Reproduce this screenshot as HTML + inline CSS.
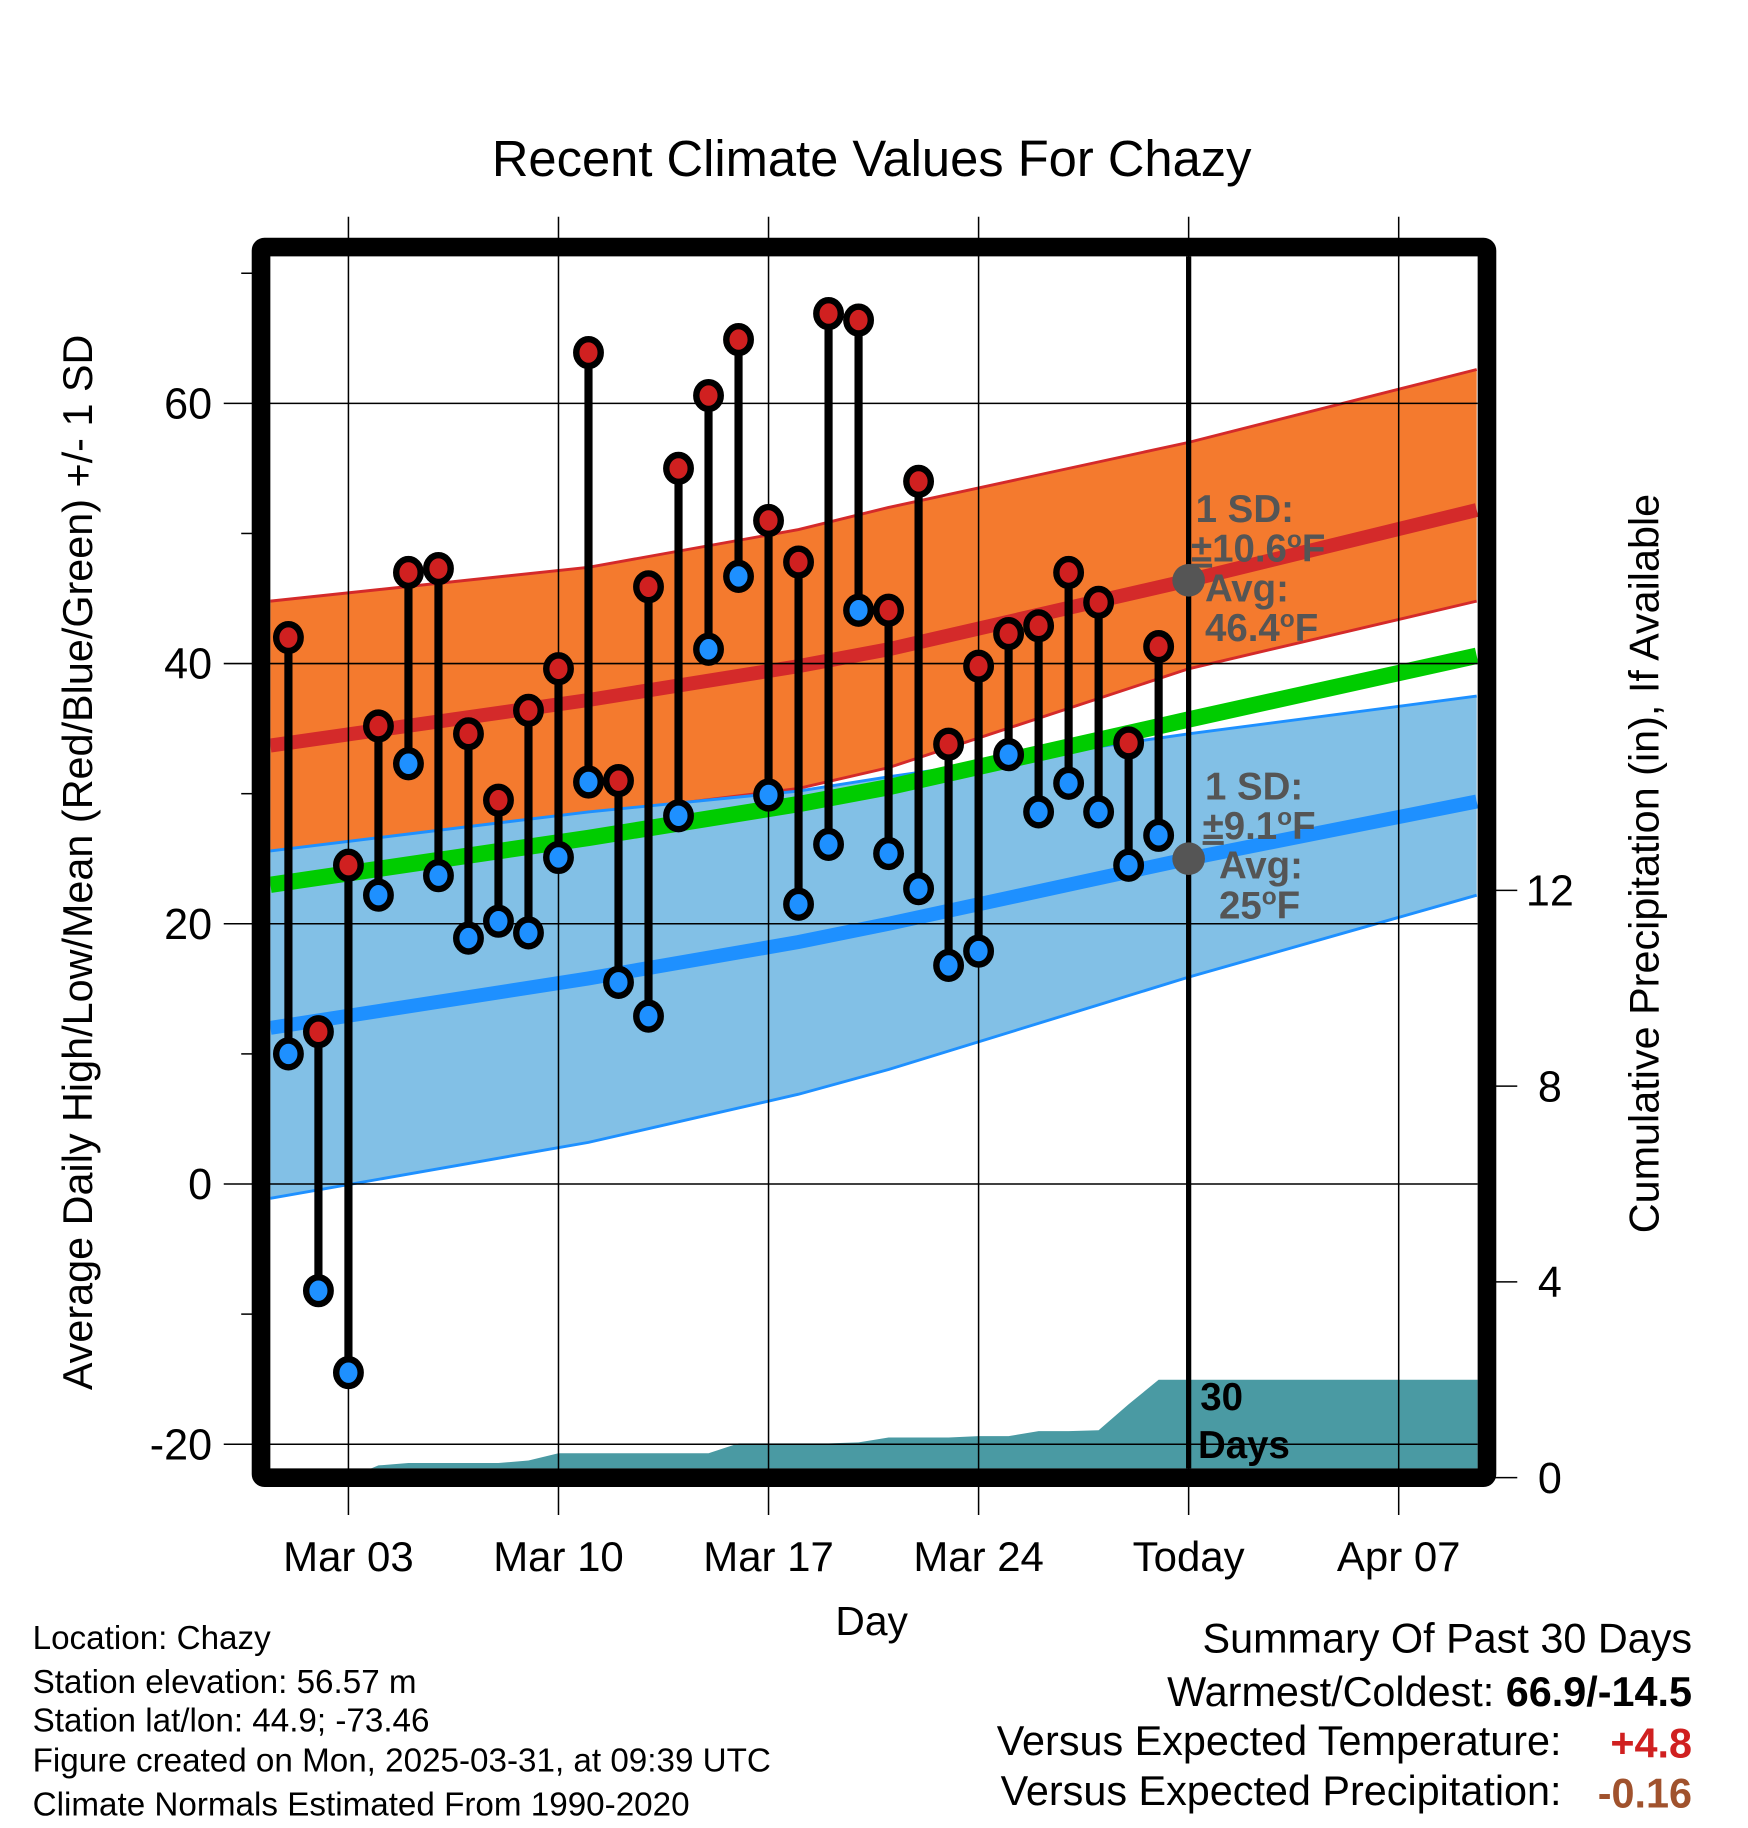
<!DOCTYPE html>
<html><head><meta charset="utf-8"><style>
html,body{margin:0;padding:0;background:#fff}
svg{display:block;font-family:"Liberation Sans",sans-serif}
</style></head><body>
<svg id="chart" width="1748" height="1828" viewBox="0 0 1500 1568.6" xmlns="http://www.w3.org/2000/svg">
<defs><clipPath id="plotclip"><rect x="232" y="220" width="1036" height="1040"/></clipPath></defs>
<rect width="1500" height="1568.6" fill="#fff"/>
<text x="748" y="151" font-size="43.5" text-anchor="middle">Recent Climate Values For Chazy</text>
<g id="grid"></g>
<g id="bands" clip-path="url(#plotclip)"></g>
<g id="precip" clip-path="url(#plotclip)"></g>
<g id="grid2"></g>
<g id="marks"></g>
<g id="axes"></g>
<g font-size="28.5">
<text x="28" y="1415">Location: Chazy</text>
<text x="28" y="1453">Station elevation: 56.57 m</text>
<text x="28" y="1486">Station lat/lon: 44.9; -73.46</text>
<text x="28" y="1520">Figure created on Mon, 2025-03-31, at 09:39 UTC</text>
<text x="28" y="1558">Climate Normals Estimated From 1990-2020</text>
</g>
<g font-size="35.5" text-anchor="end">
<text x="1452" y="1418">Summary Of Past 30 Days</text>
<text x="1452" y="1464">Warmest/Coldest: <tspan font-weight="bold">66.9/-14.5</tspan></text>
<text x="1340" y="1506">Versus Expected Temperature:</text>
<text x="1452" y="1508" font-weight="bold" fill="#d02020">+4.8</text>
<text x="1340" y="1549">Versus Expected Precipitation:</text>
<text x="1452" y="1551" font-weight="bold" fill="#a0522d">-0.16</text>
</g>
</svg>
<script>
// ---- data ----
const highs=[42,11.7,24.5,35.2,47,47.3,34.6,29.5,36.4,39.6,63.9,31,45.9,55,60.6,64.9,51,47.8,66.9,66.4,44.1,54,33.8,39.8,42.3,42.9,47,44.7,33.9,41.3];
const lows=[10,-8.2,-14.5,22.2,32.3,23.7,18.9,20.2,19.3,25.1,30.9,15.5,12.9,28.3,41.1,46.7,29.9,21.5,26.1,44.1,25.4,22.7,16.8,17.9,33,28.6,30.8,28.6,24.5,26.8];
const normDays=[-0.6,10,17,20,30,39.6];
const highMean=[33.7,37.2,39.8,41.1,46.4,51.8];
const highUpper=[44.8,47.4,50.3,52.0,57.0,62.6];
const highLower=[25.5,28.4,30.4,32.0,39.6,44.8];
const meanNorm=[23,26.6,29.2,30.5,35.7,40.6];
const lowMean=[12,15.8,18.6,20,25,29.4];
const lowUpper=[25.6,28.6,30.2,31.3,34.6,37.5];
const lowLower=[-1.1,3.2,6.9,8.8,15.9,22.2];
const precip=[0,0,0,0.25,0.3,0.3,0.3,0.3,0.35,0.5,0.5,0.5,0.5,0.5,0.5,0.7,0.7,0.7,0.7,0.72,0.82,0.82,0.82,0.85,0.85,0.95,0.95,0.97,1.5,2.0,2.0];
const xTickDays=[2,9,16,23,30,37];
const xTickLabels=["Mar 03","Mar 10","Mar 17","Mar 24","Today","Apr 07"];
const yTicks=[60,40,20,0,-20];
const yMinor=[70,50,30,10,-10];
const pTicks=[0,4,8,12];
// ---- scales ----
const X=d=>247.5+d*25.75, Y=v=>1016-v*11.165, P=v=>1268-v*42;
const NS="http://www.w3.org/2000/svg";
function mk(p,t,a){const e=document.createElementNS(NS,t);for(const k in a)e.setAttribute(k,a[k]);p.appendChild(e);return e;}
const G=id=>document.getElementById(id);
const grid=G('grid'),bands=G('bands'),pr=G('precip'),grid2=G('grid2'),marks=G('marks'),axes=G('axes');
const line=(xs,ys)=>xs.map((d,i)=>`${X(d)},${Y(ys[i])}`).join(' ');
const band=(up,lo)=>line(normDays,up)+' '+line(normDays.slice().reverse(),lo.slice().reverse());
let e;
e=mk(bands,'polygon',{points:band(highUpper,highLower),fill:'#f47a2e'});

e=mk(bands,'polyline',{points:line(normDays,highUpper),fill:'none',stroke:'#d42a2a','stroke-width':2.5});

e=mk(bands,'polyline',{points:line(normDays,highLower),fill:'none',stroke:'#d42a2a','stroke-width':2.5});

e=mk(bands,'polygon',{points:band(lowUpper,lowLower),fill:'#82c0e6'});

e=mk(bands,'polyline',{points:line(normDays,lowUpper),fill:'none',stroke:'#1e90ff','stroke-width':2.5});

e=mk(bands,'polyline',{points:line(normDays,lowLower),fill:'none',stroke:'#1e90ff','stroke-width':2.5});

e=mk(bands,'polyline',{points:line(normDays,meanNorm),fill:'none',stroke:'#00cc00','stroke-width':14});

e=mk(bands,'polyline',{points:line(normDays,highMean),fill:'none',stroke:'#d42a2a','stroke-width':12});

e=mk(bands,'polyline',{points:line(normDays,lowMean),fill:'none',stroke:'#1e90ff','stroke-width':12});

let pts=`${X(0)},${P(0)} `+precip.map((v,i)=>`${X(i)},${P(v)}`).join(' ')+` ${X(40)},${P(precip[precip.length-1])} ${X(40)},${P(0)}`;
e=mk(pr,'polygon',{points:pts,fill:'#4a9aa3'});

xTickDays.forEach((d,i)=>{
 e=mk(grid2,'line',{x1:X(d),x2:X(d),y1:186,y2:1300,stroke:'#000','stroke-width':1.3});
 
 e=mk(axes,'text',{x:X(d),y:1348,'font-size':36,'text-anchor':'middle'});e.textContent=xTickLabels[i];
 
});
yTicks.forEach(v=>{
 e=mk(grid2,'line',{x1:192,x2:1268,y1:Y(v),y2:Y(v),stroke:'#000','stroke-width':1.3});
 
 e=mk(axes,'text',{x:182,y:Y(v)+13,'font-size':37,'text-anchor':'end'});e.textContent=v;
 
});
yMinor.forEach(v=>{
 e=mk(axes,'line',{x1:207,x2:220,y1:Y(v),y2:Y(v),stroke:'#000','stroke-width':1.3});
 
});
pTicks.forEach(v=>{
 e=mk(axes,'line',{x1:1276,x2:1302,y1:P(v),y2:P(v),stroke:'#000','stroke-width':1.3});
 
 e=mk(axes,'text',{x:1330,y:P(v)+13,'font-size':37,'text-anchor':'middle'});e.textContent=v;
 
});
e=mk(marks,'line',{x1:X(30),x2:X(30),y1:220,y2:1260,stroke:'#000','stroke-width':4.5});

highs.forEach((h,i)=>{
 const l=lows[i],x=X(i);
 e=mk(marks,'line',{x1:x,x2:x,y1:Y(h),y2:Y(l),stroke:'#000','stroke-width':7});
 
 e=mk(marks,'ellipse',{cx:x,cy:Y(h),rx:10.5,ry:11.5,fill:'#d02020',stroke:'#000','stroke-width':5.5});
 
 e=mk(marks,'ellipse',{cx:x,cy:Y(l),rx:10.5,ry:11.5,fill:'#1e90ff',stroke:'#000','stroke-width':5.5});
 
});
const hm=highMean[4],lm=lowMean[4];
e=mk(marks,'circle',{cx:X(30),cy:Y(hm),r:14,fill:'#555'});

e=mk(marks,'circle',{cx:X(30),cy:Y(lm),r:14,fill:'#555'});

const ann=(lines,x0,y0,name)=>{const g=mk(marks,'g',{fill:'#555','font-weight':'bold','font-size':33});
 
 lines.forEach((t,i)=>{const tt=mk(g,'text',{x:x0[i],y:y0+i*34});tt.innerHTML=t;});};
ann(['1 SD:','<tspan text-decoration="underline">±</tspan>10.6<tspan font-size="21" dy="-12">o</tspan><tspan dy="12">F</tspan>','Avg:','46.4<tspan font-size="21" dy="-12">o</tspan><tspan dy="12">F</tspan>'],[1026,1022,1034,1034],448,'high-normal-annotation');
ann(['1 SD:','<tspan text-decoration="underline">±</tspan>9.1<tspan font-size="21" dy="-12">o</tspan><tspan dy="12">F</tspan>','Avg:','25<tspan font-size="21" dy="-12">o</tspan><tspan dy="12">F</tspan>'],[1034,1032,1046,1046],686,'low-normal-annotation');
e=mk(marks,'text',{x:1030,y:1210,'font-size':33,'font-weight':'bold'});e.textContent='30';

e=mk(marks,'text',{x:1028,y:1251,'font-size':33,'font-weight':'bold'});e.textContent='Days';

e=mk(axes,'rect',{x:224,y:212,width:1052,height:1056,fill:'none',stroke:'#000','stroke-width':16,rx:3});

e=mk(axes,'text',{transform:'translate(79,740) rotate(-90)','font-size':35.5,'text-anchor':'middle'});
e.textContent='Average Daily High/Low/Mean (Red/Blue/Green) +/- 1 SD';

e=mk(axes,'text',{transform:'translate(1423,741) rotate(-90)','font-size':35.5,'text-anchor':'middle'});
e.textContent='Cumulative Precipitation (in), If Available';

e=mk(axes,'text',{x:748,y:1403,'font-size':35,'text-anchor':'middle'});e.textContent='Day';

</script>
</body></html>
